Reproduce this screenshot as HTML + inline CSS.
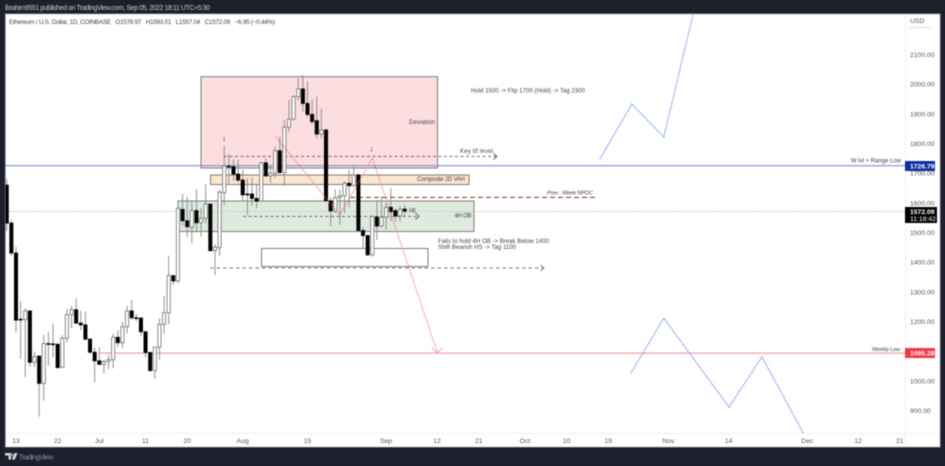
<!DOCTYPE html>
<html lang="en">
<head>
<meta charset="utf-8">
<title>Ethereum / U.S. Dollar chart</title>
<style>
html,body{margin:0;padding:0;width:945px;height:466px;overflow:hidden;background:#1c202c}
#chart{display:block;filter:blur(.42px);font-family:"Liberation Sans",sans-serif}
text{font-family:"Liberation Sans",sans-serif;white-space:pre}
</style>
</head>
<body>
<svg id="chart" xmlns="http://www.w3.org/2000/svg" width="945" height="466" viewBox="0 0 945 466">
  <defs>
    <clipPath id="plot-clip"><rect x="5.5" y="14" width="899.5" height="419"/></clipPath>
  </defs>
  <rect x="0" y="0" width="945" height="466" fill="#1c202c"/>
  <text x="5" y="10" font-size="7" fill="#c8cad0" textLength="205">ibrahim9551 published on TradingView.com, Sep 05, 2022 18:11 UTC+5:30</text>
  <rect x="5.5" y="14" width="934.5" height="433" fill="#ffffff" stroke="#b4b6bc" stroke-width=".8"/>
  <line x1="905.5" y1="14" x2="905.5" y2="447" stroke="#eceef1" stroke-width="1"/>
  <line x1="5.5" y1="433.5" x2="940" y2="433.5" stroke="#eceef1" stroke-width="1"/>
  <text x="9" y="24" font-size="6.3" fill="#444" textLength="266">Ethereum / U.S. Dollar, 1D, COINBASE   O1578.97   H1593.01   L1557.04   C1572.09   −6.95 (−0.44%)</text>
  <text x="910" y="23" font-size="6.8" fill="#555">USD</text>
  <line x1="910" y1="27.5" x2="931" y2="27.5" stroke="#bbb" stroke-width=".8" stroke-dasharray="1.5 1"/>

  <g id="zones" clip-path="url(#plot-clip)"></g>
  <g id="levels" clip-path="url(#plot-clip)"></g>
  <g id="candles" clip-path="url(#plot-clip)"></g>
  <g id="paths" clip-path="url(#plot-clip)"></g>

  <g font-size="6" fill="#444">
    <text x="471" y="92.5" textLength="114">Hold 1500 -&gt; Flip 1700 (Hold) -&gt; Tag 2300</text>
    <text x="409" y="124" textLength="26">Deviation</text>
    <text x="460" y="153" textLength="33">Key ltf level</text>
    <text x="417" y="181" textLength="48">Composite 2D VAH</text>
    <text x="547" y="194.5" textLength="46" font-size="5.6" font-style="italic">Prev . Week NPOC</text>
    <text x="454.5" y="217.5" textLength="17">4H OB</text>
    <text x="409" y="212.5" textLength="7">HS</text>
    <text x="438" y="243" textLength="111">Fails to hold 4H OB -&gt; Break Below 1400</text>
    <text x="438" y="249" textLength="78">Shift Bearish HS -&gt; Tag 1100</text>
    <text x="851" y="162.5" textLength="50">W lvl + Range Low</text>
    <text x="872" y="351" textLength="28" font-size="5.5">Weekly Low</text>
    <text x="222.3" y="140.5" font-size="7.5" font-weight="bold" fill="#111">↓</text>
    <text x="369.8" y="151" font-size="7.5" font-weight="bold" fill="#111">↓</text>
  </g>

  <g id="price-axis" font-size="6.8" fill="#555"></g>
  <g id="time-axis" font-size="6.8" fill="#555"></g>

  <g>
    <rect x="905" y="161" width="30" height="10" fill="#0f2f9f"/>
    <text x="910" y="168.5" font-size="6.8" font-weight="bold" fill="#fff">1726.79</text>
  </g>
  <g>
    <rect x="905" y="207" width="32" height="16" fill="#000"/>
    <text x="910" y="214" font-size="6.8" font-weight="bold" fill="#fff">1572.09</text>
    <text x="910" y="221" font-size="6.8" fill="#fff">11:18:42</text>
  </g>
  <g>
    <rect x="905" y="348" width="30" height="10" fill="#f23645"/>
    <text x="910" y="355.5" font-size="6.8" font-weight="bold" fill="#fff">1095.28</text>
  </g>

  <g>
    <path d="M5 453h6v6.5H8.500v-4H5zM11.500 453.500a1.300 1.300 0 1 0 .01 0zM14.500 453h3l-2.700 6.500h-3z" fill="#d8dae0"/>
    <text x="18.500" y="459.500" font-size="7.500" fill="#8a8e99" textLength="35">TradingView</text>
  </g>
</svg>

<script>
// Candle data: daily ETH/USD, beginning two days before the Jun 13 tick
const firstCandleDay = -2;
const opens = [1660,1532,1431,1208,1207,1236,1063,1084,992,1126,1125,1124,1046,1144,1223,1240,1195,1189,1141,1097,1068,1056,1066,1072,1147,1129,1183,1236,1213,1212,1166,1096,1035,1114,1191,1230,1355,1337,1578,1540,1518,1574,1533,1548,1596,1439,1449,1634,1724,1722,1697,1677,1630,1630,1615,1606,1735,1691,1700,1776,1702,1855,1882,1958,1984,1935,1898,1877,1832,1846,1607,1573,1618,1624,1666,1658,1694,1507,1490,1425,1552,1522,1552,1585,1574,1556,1578.97];
const highs = [1680,1542,1452,1268,1245,1236,1099,1084,1155,1166,1192,1124,1155,1243,1253,1279,1236,1234,1144,1113,1113,1071,1088,1159,1170,1200,1253,1273,1226,1215,1166,1096,1114,1211,1287,1422,1355,1590,1630,1621,1604,1646,1582,1663,1596,1460,1644,1792,1765,1747,1745,1711,1683,1686,1660,1739,1750,1725,1790,1823,1879,1947,1963,2020,2031,2008,1949,1958,1918,1846,1620,1646,1644,1672,1711,1722,1700,1520,1490,1559,1610,1621,1600,1649,1582,1590,1593.01];
const lows = [1505,1421,1164,1075,1013,1048,1048,880,934,1051,1080,1043,1044,1129,1178,1192,1172,1136,1091,996,1054,1026,1040,1043,1114,1110,1161,1206,1200,1152,1079,1032,1007,1071,1159,1191,1324,1330,1522,1486,1464,1500,1487,1530,1437,1357,1421,1593,1666,1674,1669,1607,1559,1591,1582,1604,1688,1668,1685,1700,1657,1840,1878,1945,1907,1890,1865,1818,1818,1605,1522,1565,1526,1565,1587,1655,1505,1447,1421,1419,1475,1518,1510,1537,1537,1537,1557.04];
const closes = [1532,1431,1205,1207,1236,1063,1082,992,1126,1124,1123,1045,1144,1223,1240,1195,1189,1141,1097,1068,1056,1066,1072,1147,1129,1183,1236,1213,1211,1166,1096,1035,1114,1191,1230,1355,1337,1582,1540,1520,1574,1533,1548,1596,1439,1451,1636,1724,1722,1697,1677,1627,1628,1615,1606,1735,1691,1700,1776,1702,1855,1882,1958,1984,1935,1898,1874,1832,1846,1607,1573,1618,1624,1666,1658,1694,1507,1490,1425,1554,1522,1552,1585,1570,1556,1578,1572.09];

// Axis ticks
const priceTicks = [2100,2000,1900,1800,1700,1600,1500,1400,1300,1200,1100,1000,900];
const timeTickDays = [0,9,18,28,37,49,63,80,91,100,110,119,128,141,154,171,182,191];
const timeTickLabels = ["13","22","Jul","11","20","Aug","15","Sep","12","21","Oct","10","19","Nov","14","Dec","12","21"];

// Levels
const rangeLowPrice = 1726.79;
const weeklyLowPrice = 1095.28;
const lastPrice = 1572.09;

// Projected routes: day offsets and prices
const upperRouteDays = [126.2,133.1,140,146.3];
const upperRoutePrices = [1748,1933,1822,2233];
const lowerRouteDays = [132.9,140,154.1,161.2,170.5];
const lowerRoutePrices = [1027,1212,912,1081,815];
const bearRouteDays = [56,70,77,91];
const bearRoutePrices = [1826,1559,1751,1098];

const SVGNS = "http://www.w3.org/2000/svg";
function xScale(day){ return 16 + day * 4.627; }
function yScale(price){ return 54.5 + (2100 - price) * 0.2968; }
function make(tag, attrs, parent){
  const el = document.createElementNS(SVGNS, tag);
  for (const k in attrs) el.setAttribute(k, attrs[k]);
  parent.appendChild(el);
  return el;
}
const zones = document.getElementById("zones");
const levels = document.getElementById("levels");
const candles = document.getElementById("candles");
const paths = document.getElementById("paths");
const priceAxis = document.getElementById("price-axis");
const timeAxis = document.getElementById("time-axis");

function zone(name, x, y, w, h, fill){
  const el = make("rect", {x:x, y:y, width:w, height:h, fill:fill, stroke:"#7b7b7b", "stroke-width":1}, zones);
  
  
}
zone("deviation-zone", 201, 76.7, 236.5, 91.3, "#fcdde0");
zone("composite-vah-zone", 210.5, 175, 258.5, 9.500, "#fbe6d0");
zone("order-block-zone", 178, 201, 296, 30.500, "#dfeadf");
zone("target-zone", 261.500, 248.500, 166.500, 18, "#ffffff");

function hLine(name, x1, x2, price, color, width, dash){
  const y = yScale(price) + 0.4;
  const el = make("line", {x1:x1, x2:x2, y1:y, y2:y, stroke:color, "stroke-width":width}, levels);
  if (dash) el.setAttribute("stroke-dasharray", dash);
  
  
}
hLine("last-price-line", 9, 905, lastPrice, "#c4c4c4", 0.9, "1.5 1");
hLine("range-low-line", 5.5, 905, rangeLowPrice, "#7f90d0", 1.2, "");
hLine("weekly-low-line", 99, 905, weeklyLowPrice, "#f5a0a8", 1.2, "");
hLine("key-ltf-level-line", 224, 496, 1758, "#444", 0.8, "3 2.5");
hLine("prev-week-npoc-line", 350, 595, 1620, "#8b2635", 1, "5 3");
hLine("order-block-mid-line", 243, 417, 1556, "#444", 0.8, "3 2.5");
hLine("lower-dashed-line", 210, 543, 1382, "#777", 1, "3.5 3");

function chevron(name, x, y, color){
  const el = make("path", {d:`M${x-3.5} ${y-3}L${x} ${y}L${x-3.5} ${y+3}`, fill:"none", stroke:color, "stroke-width":0.8}, levels);
  
  
}
chevron("key-ltf-arrow", 497, yScale(1758) + 0.4, "#444");
chevron("order-block-arrow", 419, yScale(1556) + 0.4, "#444");
chevron("lower-dashed-arrow", 544, yScale(1382) + 0.4, "#666");

// candles
opens.forEach(function(open, i){
  const day = firstCandleDay + i;
  const x = xScale(day);
  const close = closes[i];
  const up = close >= open;
  const wick = make("line", {x1:x, x2:x, y1:yScale(highs[i]), y2:yScale(lows[i]), stroke:"#858585", "stroke-width":0.9}, candles);
  
  
  const top = yScale(Math.max(open, close));
  const bottom = yScale(Math.min(open, close));
  const body = make("rect", {x:x-1.6, y:top, width:3.2, height:Math.max(bottom-top, 0.8),
    fill: up ? "#ffffff" : "#000000", stroke: up ? "#707070" : "#000000", "stroke-width":0.8}, candles);
  
  
});

function route(name, days, prices, color, width, dash){
  const pts = days.map(function(d, i){ return xScale(d).toFixed(1) + "," + yScale(prices[i]).toFixed(1); }).join(" ");
  const el = make("polyline", {points:pts, fill:"none", stroke:color, "stroke-width":width, "stroke-dasharray":dash}, paths);
  
  
}
route("upper-projection-route", upperRouteDays, upperRoutePrices, "#4f74e0", 1.2, "1.2 1.4");
route("lower-projection-route", lowerRouteDays, lowerRoutePrices, "#4f74e0", 1.2, "1.2 1.4");
route("bearish-route", bearRouteDays, bearRoutePrices, "#ee5f70", 1.1, "1.2 1.4");

// arrowhead at the end of the bearish route
const tipX = xScale(bearRouteDays[bearRouteDays.length - 1]);
const tipY = yScale(bearRoutePrices[bearRoutePrices.length - 1]);
const tip = make("path", {d:`M${tipX-5} ${tipY-4}L${tipX} ${tipY+1}L${tipX+5} ${tipY-4}`, fill:"none", stroke:"#ee5f70", "stroke-width":1, "stroke-dasharray":"1.2 1.2"}, paths);



priceTicks.forEach(function(p){
  const t = make("text", {x:910, y:yScale(p) + 2.4}, priceAxis);
  t.textContent = p.toFixed(2);
  
  
});
timeTickDays.forEach(function(d, i){
  const t = make("text", {x:xScale(d), y:443, "text-anchor":"middle"}, timeAxis);
  t.textContent = timeTickLabels[i];
  
  
});
</script>
</body>
</html>
